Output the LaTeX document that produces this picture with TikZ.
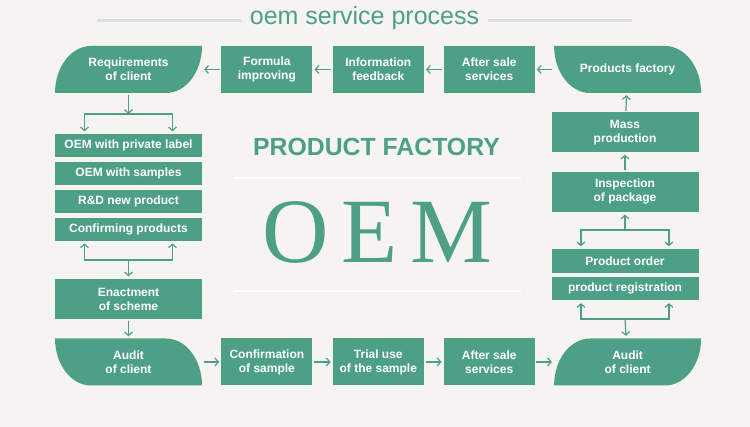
\documentclass[tikz,border=0pt]{standalone}
\usepackage{fontspec}
\setsansfont{Liberation Sans}
\newfontfamily\oemserif{Liberation Serif}
\usetikzlibrary{positioning,arrows.meta}
\definecolor{oemgreen}{RGB}{77,160,134}
\definecolor{paper}{RGB}{246,244,240}
\definecolor{rulegrey}{RGB}{220,223,226}
\tikzset{
  box/.style={fill=oemgreen, text=white, inner sep=0pt, align=center,
    font=\sffamily\bfseries\fontsize{12}{14}\selectfont,
    minimum width=91pt, minimum height=47pt},
  widebox/.style={box, minimum width=147pt},
  slimbox/.style={widebox, minimum height=23pt},
  leafdown/.style={widebox, fill=paper, path picture={
    \fill[oemgreen] (path picture bounding box.south west)
      arc[start angle=180, end angle=90, x radius=36pt, y radius=47pt]
      -- (path picture bounding box.north east)
      arc[start angle=0, end angle=-90, x radius=36pt, y radius=47pt] -- cycle;}},
  leafup/.style={widebox, fill=paper, path picture={
    \fill[oemgreen] (path picture bounding box.north west)
      -- ([xshift=-36pt]path picture bounding box.north east)
      arc[start angle=90, end angle=0, x radius=36pt, y radius=47pt]
      -- ([xshift=36pt]path picture bounding box.south west)
      arc[start angle=270, end angle=180, x radius=36pt, y radius=47pt] -- cycle;}},
  flow/.style={draw=oemgreen, line width=1.2pt,
    -{Straight Barb[length=3.5pt, width=8pt]}, shorten >=2pt, shorten <=1.5pt},
  fork/.style={draw=oemgreen, line width=1.2pt,
    -{Straight Barb[length=3.5pt, width=8pt]}, shorten >=2.5pt}
}
\begin{document}
\begin{tikzpicture}[x=1pt, y=-1pt]
   \path[use as bounding box, fill=paper] (0,0) rectangle (750,427);
   % heading
   \node (title) [anchor=base, text=oemgreen, font=\sffamily\fontsize{25}{30}\selectfont]
     at (364.5,25) {oem service process};
   \draw[rulegrey, line width=3pt] (97,20.5) -- (242,20.5) (488,20.5) -- (632,20.5);
   \node (headline) [anchor=base, text=oemgreen, font=\sffamily\bfseries\fontsize{24.8}{28}\selectfont]
     at (376.5,156) {PRODUCT FACTORY};
   \draw[white, line width=2.5pt] (234,178) -- (521,178) (234,291) -- (521,291);
   \node (oem) [anchor=base, text=oemgreen, font=\oemserif\fontsize{92}{92}\selectfont]
     at (377.5,262.5) {O\kern13pt E\kern13pt M};
   % top row
   \node (req) [leafdown] at (128.5,69.5) {Requirements\\of client};
   \node (formula) [box, right=19pt of req] {Formula\\improving};
   \node (info) [box, right=20pt of formula] {Information\\feedback};
   \node (aftertop) [box, right=19.5pt of info] {After sale\\services};
   \node (pfactory) [leafup, right=19pt of aftertop] {Products factory};
   % left column
   \node (private) [slimbox] at (128.5,145.5) {OEM with private label};
   \node (samples) [slimbox, below=4.5pt of private] {OEM with samples};
   \node (rnd) [slimbox, below=4.5pt of samples] {R\&D new product};
   \node (confirming) [slimbox, below=4.5pt of rnd] {Confirming products};
   \node (enact) [widebox, minimum height=40pt] at (128.5,299) {Enactment\\of scheme};
   % right column
   \node (mass) [widebox, minimum height=40pt] at (625,132.5) {Mass\\production};
   \node (inspect) [widebox, minimum height=40pt, below=19pt of mass] {Inspection\\of package};
   \node (order) [slimbox, minimum height=24pt] at (625,261) {Product order};
   \node (registration) [slimbox, below=4pt of order] {product registration};
   % bottom row
   \node (auditl) [leafup] at (128.5,362) {Audit\\of client};
   \node (confsample) [box, right=19pt of auditl] {Confirmation\\of sample};
   \node (trial) [box, right=20pt of confsample] {Trial use\\of the sample};
   \node (afterbot) [box, right=19.5pt of trial] {After sale\\services};
   \node (auditr) [leafdown, right=19pt of afterbot] {Audit\\of client};
   \path[flow]
     (formula)    edge (req)
     (info)       edge (formula)
     (aftertop)   edge (info)
     (pfactory)   edge (aftertop)
     (auditl)     edge (confsample)
     (confsample) edge (trial)
     (trial)      edge (afterbot)
     (afterbot)   edge (auditr)
     (enact)      edge (auditl)
     (mass)       edge (pfactory)
     (inspect)    edge (mass);
   % forks
   \coordinate (splitleft) at (128.5,114);
   \coordinate (mergeleft) at (128.5,260);
   \coordinate (splitright) at (625,230);
   \coordinate (mergeright) at (625,319);
   \draw[flow, shorten >=0pt] (req) -- (splitleft);
   \draw[fork] (splitleft) -| ([xshift=-44pt]private.north);
   \draw[fork] (splitleft) -| ([xshift=44pt]private.north);
   \draw[fork] (mergeleft) -| ([xshift=-44pt]confirming.south);
   \draw[fork] (mergeleft) -| ([xshift=44pt]confirming.south);
   \draw[fork] (mergeleft) -- (enact);
   \draw[fork] (splitright) -- (inspect);
   \draw[fork] (splitright) -| ([xshift=-44pt]order.north);
   \draw[fork] (splitright) -| ([xshift=44pt]order.north);
   \draw[fork] (mergeright) -| ([xshift=-44pt]registration.south);
   \draw[fork] (mergeright) -| ([xshift=44pt]registration.south);
   \draw[fork] (mergeright) -- (auditr);
\end{tikzpicture}
\end{document}
